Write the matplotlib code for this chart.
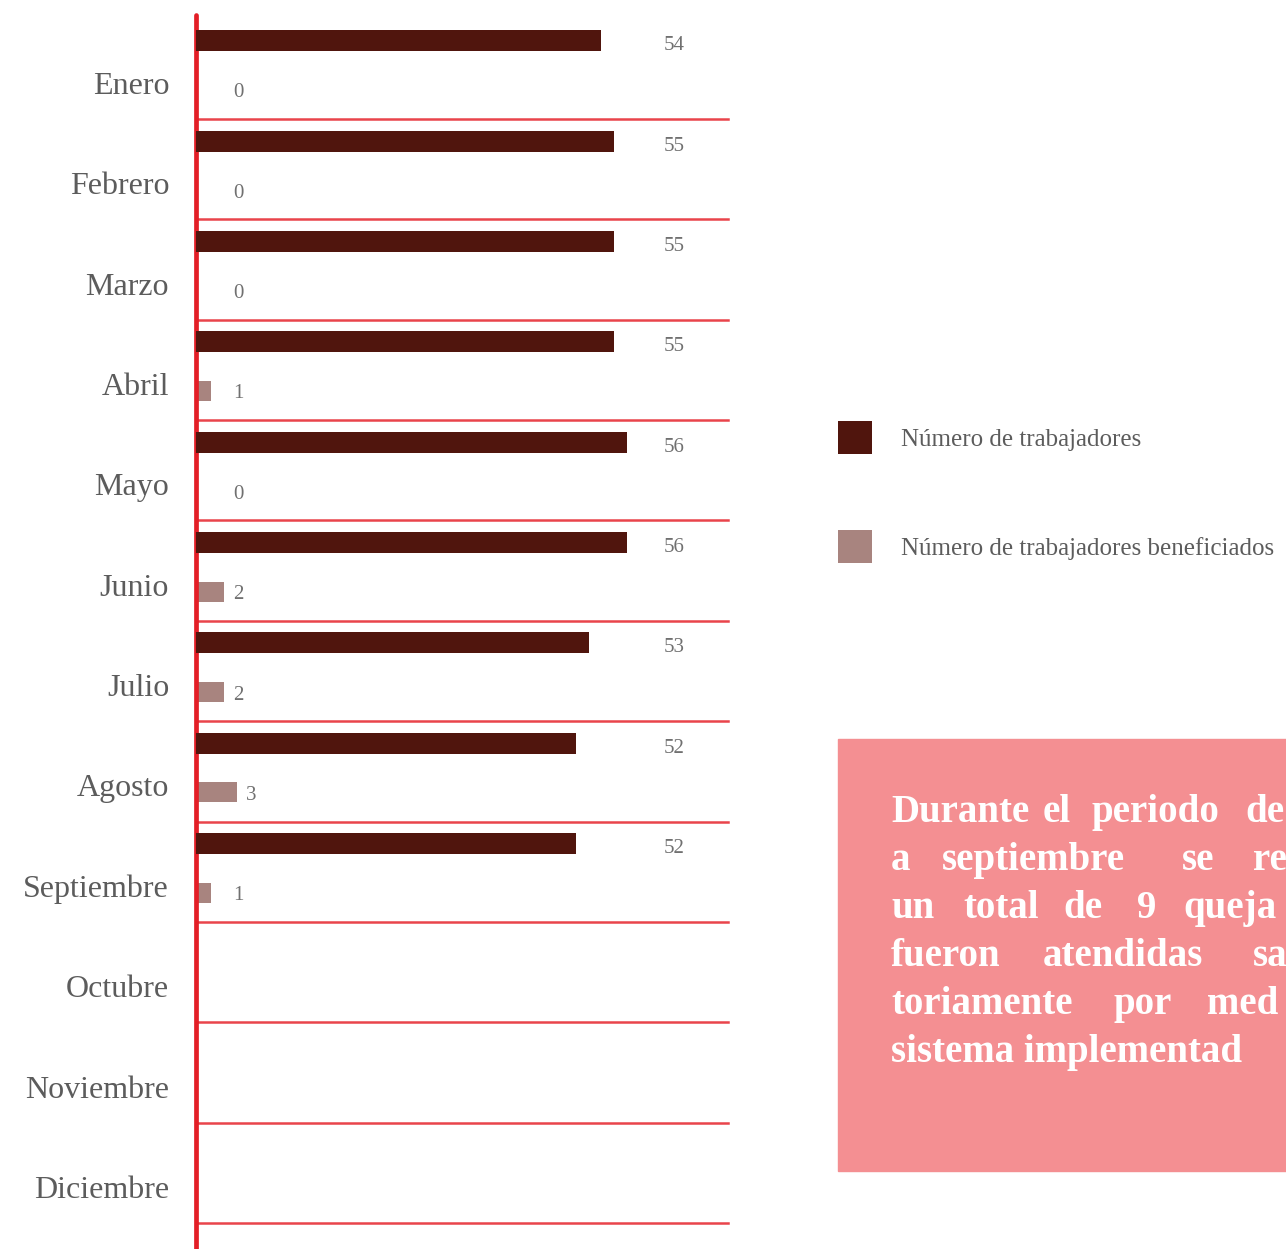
import matplotlib
matplotlib.use('Agg')
import matplotlib.pyplot as plt
from matplotlib.patches import Rectangle

# data
meses = ["Enero", "Febrero", "Marzo", "Abril", "Mayo", "Junio", "Julio",
         "Agosto", "Septiembre", "Octubre", "Noviembre", "Diciembre"]
trabajadores = [54, 55, 55, 55, 56, 56, 53, 52, 52]
beneficiados = [0, 0, 0, 1, 0, 2, 2, 3, 1]
leyenda = ["Número de trabajadores", "Número de trabajadores beneficiados"]

# text of the pink box as it shows (cut at the right edge), with word x positions in px
cuadro = [
    [("Durante", 891), ("el", 1043), ("periodo", 1092), ("de", 1245)],
    [("a", 891), ("septiembre", 942), ("se", 1182), ("re", 1253)],
    [("un", 891), ("total", 963), ("de", 1063), ("9", 1137), ("queja", 1183)],
    [("fueron", 891), ("atendidas", 1043), ("sa", 1253)],
    [("toriamente", 891), ("por", 1113), ("med", 1207)],
    [("sistema implementad", 891)],
]

# colours
c_dark = '#50150d'
c_light = '#a8847f'
c_axis = '#e31e26'
c_sep = '#e9444b'
c_text = '#5c5c5c'
c_box = '#f48f92'

W, H = 1286, 1249
fig = plt.figure(figsize=(W / 100, H / 100), dpi=100)
fig.patch.set_facecolor('white')

x0, x1 = 195.5, 728
y_top, y_bot = 18.6, 1223
ax = fig.add_axes([x0 / W, 1 - y_bot / H, (x1 - x0) / W, (y_bot - y_top) / H])
axd = ax.twiny()

px_l, px_d = 13.0, 12.75
ax.set_xlim(-0.2, -0.2 + (x1 - x0) / px_l)
axd.set_xlim(22.16, 22.16 + (x1 - x0) / px_d)
ax.set_ylim(len(meses), 0)

for a in (ax, axd):
    for s in a.spines.values():
        s.set_visible(False)
    a.set_xticks([])
    a.patch.set_visible(False)

n = len(trabajadores)
yd = [i + 0.22 for i in range(n)]
yl = [i + 0.71 for i in range(n)]
b1 = axd.barh(yd, trabajadores, height=0.21, color=c_dark, zorder=3)
b2 = ax.barh(yl, beneficiados, height=0.20, color=c_light, zorder=3)

# value labels
for y, v in zip(yd, trabajadores):
    ax.text(0.899, y + 0.05, str(v), transform=ax.get_yaxis_transform(),
            ha='center', va='center', fontsize=15, color='#707070',
            family='Liberation Serif')
for y, v in zip(yl, beneficiados):
    ax.text(max(v, 2) + 0.7, y + 0.03, str(v), ha='left', va='center',
            fontsize=15, color='#707070', family='Liberation Serif')

# separators below each month
for i in range(1, len(meses) + 1):
    ax.axhline(i, color=c_sep, lw=1.8, zorder=2, clip_on=False)

# month labels
ax.set_yticks([i + 0.64 for i in range(len(meses))])
ax.set_yticklabels(meses, fontsize=23, color=c_text, family='Liberation Serif')
ax.tick_params(axis='y', length=0, pad=19)

# red vertical axis line running off the bottom
ax.plot([0, 0], [1 + 4 / (y_bot - y_top), -(H - y_bot) / (y_bot - y_top)],
        transform=ax.transAxes, color=c_axis, lw=3.4, clip_on=False,
        solid_capstyle='round', zorder=5)

# legend
fig.legend([b1, b2], leyenda, loc='upper left',
           bbox_to_anchor=(838 / W, 1 - 421 / H), frameon=False,
           prop={'family': 'Liberation Serif', 'size': 18},
           labelcolor=c_text, handlelength=1.36, handleheight=1.65,
           handletextpad=1.15, labelspacing=3.05, borderpad=0,
           borderaxespad=0)

# pink text box
fig.patches.append(Rectangle((838 / W, 1 - 1171 / H), (W - 838) / W + 0.01,
                             (1171 - 739) / H, transform=fig.transFigure,
                             color=c_box, zorder=0))
for k, linea in enumerate(cuadro):
    yb = 1 - (822 + 48 * k) / H
    for palabra, xp in linea:
        fig.text(xp / W, yb, palabra, ha='left', va='baseline', color='white',
                 fontsize=28, fontweight='bold', family='Liberation Serif')

fig.savefig('out.png', dpi=100)
